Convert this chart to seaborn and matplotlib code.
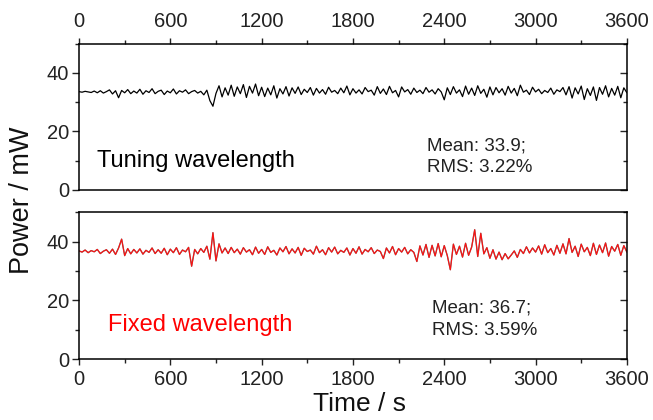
import numpy as np
import pandas as pd
import matplotlib
matplotlib.use('Agg')
import matplotlib.pyplot as plt
from matplotlib.ticker import MultipleLocator
import seaborn as sns

# sampling grid (s)
time_s = np.arange(0, 3601, 20)

# power (mW), every 20 s
tuning_power = [
    33.6, 33.4, 33.7, 33.5, 33.3, 33.8, 33.2, 33.9, 33.1, 33.6,
    34.2, 32.8, 33.9, 31.5, 34.0, 33.2, 34.3, 32.9, 33.8, 33.1,
    34.4, 32.7, 33.9, 33.3, 34.6, 32.9, 33.7, 34.1, 32.6, 33.8,
    33.2, 34.5, 32.8, 33.9, 33.4, 34.2, 32.9, 33.6, 34.0, 33.1,
    33.7, 32.5, 34.1, 30.5, 28.6, 33.0, 35.6, 31.8, 34.9, 32.4,
    35.8, 32.0, 35.2, 32.9, 36.0, 31.6, 35.4, 33.1, 36.2, 32.2,
    35.1, 31.9, 34.8, 32.5, 35.6, 31.4, 34.6, 32.8, 35.3, 32.1,
    34.9, 33.0, 35.2, 32.6, 34.4, 33.3, 35.0, 32.4, 34.7, 33.1,
    34.3, 32.7, 35.1, 33.4, 34.0, 32.9, 34.8, 33.2, 35.5, 32.5,
    34.6, 33.1, 34.2, 32.8, 35.0, 33.6, 34.1, 32.4, 35.3, 33.0,
    34.5, 32.6, 35.4, 33.2, 34.0, 31.8, 35.2, 33.5, 34.3, 32.7,
    34.8, 33.3, 34.1, 32.9, 35.0, 33.4, 34.2, 32.8, 34.6, 33.5,
    30.8, 34.9, 32.6, 35.3, 33.1, 34.2, 31.9, 35.5, 32.7, 34.8,
    32.3, 35.6, 33.0, 34.4, 31.7, 35.2, 32.5, 35.0, 33.2, 34.6,
    32.4, 35.4, 33.1, 34.7, 32.2, 35.8, 33.4, 34.1, 32.6, 35.1,
    33.5, 34.4, 32.9, 34.0, 33.3, 34.8, 32.7, 34.2, 33.6, 35.0,
    32.5, 35.3, 31.4, 34.9, 32.8, 35.5, 30.9, 34.6, 32.3, 35.2,
    30.6, 35.0, 32.7, 35.6, 31.8, 34.7, 32.4, 35.4, 31.5, 34.9,
    33.2,
]

fixed_power = [
    36.8, 36.4, 37.1, 36.2, 36.9, 36.5, 37.3, 35.9, 36.7, 37.2,
    36.0, 37.4, 35.6, 37.8, 40.8, 35.2, 37.6, 35.8, 37.3, 36.1,
    37.5, 35.7, 37.0, 36.3, 37.8, 35.9, 37.2, 36.0, 37.7, 35.5,
    37.4, 36.2, 37.9, 35.6, 37.1, 36.5, 38.0, 31.6, 37.3, 35.8,
    37.6, 36.3, 38.4, 34.0, 43.0, 33.4, 39.2, 36.1, 37.8, 35.9,
    38.0, 36.2, 37.4, 35.7, 37.9, 36.4, 37.2, 35.5, 38.1, 36.0,
    37.3, 35.6, 38.2, 36.3, 37.0, 35.4, 37.8, 36.5, 38.3, 35.8,
    37.5, 36.1, 38.0, 35.3, 37.7, 36.6, 37.1, 35.7, 38.4, 36.2,
    37.2, 35.5, 37.9, 36.4, 38.1, 35.8, 37.0, 36.3, 37.8, 35.4,
    37.6, 36.0, 38.2, 35.7, 37.3, 36.5, 37.9, 35.9, 37.1, 36.6,
    34.2, 37.8, 36.1, 38.3, 35.5, 37.6, 36.4, 38.0, 35.8, 37.2,
    36.3, 33.2, 38.5, 35.4, 39.0, 34.6, 38.7, 35.1, 39.3, 34.8,
    38.6, 35.2, 30.4, 39.1, 35.6, 38.4, 34.7, 39.4, 35.3, 38.1,
    44.0, 34.9, 42.8, 35.8, 37.9, 34.3, 37.2, 34.0, 36.4, 33.8,
    35.9, 34.1, 35.4, 36.8, 34.6, 37.3, 35.9, 38.2, 36.1, 37.8,
    36.4, 38.5, 35.7, 38.9, 36.2, 37.6, 35.4, 38.7, 36.0, 39.2,
    35.8, 41.0, 36.3, 38.4, 34.9, 39.1, 36.5, 38.0, 35.2, 39.4,
    35.6, 38.8, 36.2, 39.5, 35.0, 38.3, 36.7, 39.0, 35.3, 38.6,
    36.4,
]

panel_labels = ['Tuning wavelength', 'Fixed wavelength']
stats_labels = ['Mean: 33.9;\nRMS: 3.22%', 'Mean: 36.7;\nRMS: 3.59%']
x_ticks = [0, 600, 1200, 1800, 2400, 3000, 3600]
y_ticks = [0, 20, 40]

df = pd.DataFrame({'time': time_s, 'tuning': tuning_power, 'fixed': fixed_power})

sns.set_style('ticks')
plt.rcParams['font.family'] = ['Liberation Sans', 'DejaVu Sans']

fig = plt.figure(figsize=(6.53, 4.2), dpi=100)
ax_top = fig.add_axes([0.121, 0.548, 0.839, 0.348])
ax_bot = fig.add_axes([0.121, 0.145, 0.839, 0.350])

sns.lineplot(data=df, x='time', y='tuning', ax=ax_top, color='black', lw=0.9, estimator=None)
sns.lineplot(data=df, x='time', y='fixed', ax=ax_bot, color='black', lw=1.0, alpha=0.55,
             estimator=None)
sns.lineplot(data=df, x='time', y='fixed', ax=ax_bot, color='#ff1010', lw=0.8, estimator=None)

for ax in (ax_top, ax_bot):
    ax.set_xlim(0, 3600)
    ax.set_ylim(0, 50)
    ax.set_xlabel('')
    ax.set_ylabel('')
    for sp in ax.spines.values():
        sp.set_visible(True)
        sp.set_linewidth(1.1)
        sp.set_color('black')
    ax.xaxis.set_major_locator(MultipleLocator(600))
    ax.xaxis.set_minor_locator(MultipleLocator(300))
    ax.yaxis.set_major_locator(MultipleLocator(20))
    ax.yaxis.set_minor_locator(MultipleLocator(10))
    ax.set_yticks(y_ticks)
    ax.set_yticklabels([str(v) for v in y_ticks])
    ax.tick_params(axis='y', which='both', direction='out', left=True, right=False,
                   labelsize=14.5, colors='#222222', pad=2)
    ax.tick_params(axis='y', which='major', length=5, width=1)
    ax.tick_params(axis='y', which='minor', length=3, width=1)
    # inward ticks on the right spine
    ax_r = ax.secondary_yaxis('right')
    ax_r.yaxis.set_major_locator(MultipleLocator(20))
    ax_r.yaxis.set_minor_locator(MultipleLocator(10))
    ax_r.tick_params(which='both', direction='in', labelright=False)
    ax_r.tick_params(which='major', length=5, width=1)
    ax_r.tick_params(which='minor', length=3, width=1)
    ax_r.spines['right'].set_visible(False)

# top panel: time ticks on top only
ax_top.tick_params(axis='x', which='both', bottom=False, labelbottom=False,
                   top=True, labeltop=True, direction='out', labelsize=14.5,
                   colors='#222222', pad=5)
ax_top.tick_params(axis='x', which='major', length=4, width=1)
ax_top.tick_params(axis='x', which='minor', length=3, width=1)
ax_top.set_xticks(x_ticks)
ax_top.set_xticklabels([str(v) for v in x_ticks])

ax_bot.tick_params(axis='x', which='both', bottom=True, top=False, direction='out',
                   labelsize=14.5, colors='#222222', pad=4)
ax_bot.tick_params(axis='x', which='major', length=4, width=1)
ax_bot.tick_params(axis='x', which='minor', length=3, width=1)
ax_bot.set_xticks(x_ticks)
ax_bot.set_xticklabels([str(v) for v in x_ticks])

ax_top.text(118, 10, panel_labels[0], fontsize=17, color='black', va='center', ha='left')
ax_bot.text(190, 11.6, panel_labels[1], fontsize=17, color='red', va='center', ha='left')
ax_top.text(2286, 11.3, stats_labels[0], fontsize=13.5, color='#222222', va='center',
            ha='left', linespacing=1.4)
ax_bot.text(2319, 13.5, stats_labels[1], fontsize=13.5, color='#222222', va='center',
            ha='left', linespacing=1.4)

fig.text(0.034, 0.524, 'Power / mW', rotation=90, fontsize=19.5, va='center', ha='center',
         color='#111111')
fig.text(0.551, 0.038, 'Time / s', fontsize=19, va='center', ha='center', color='#111111')

fig.savefig('out.png', dpi=100, facecolor='white')
